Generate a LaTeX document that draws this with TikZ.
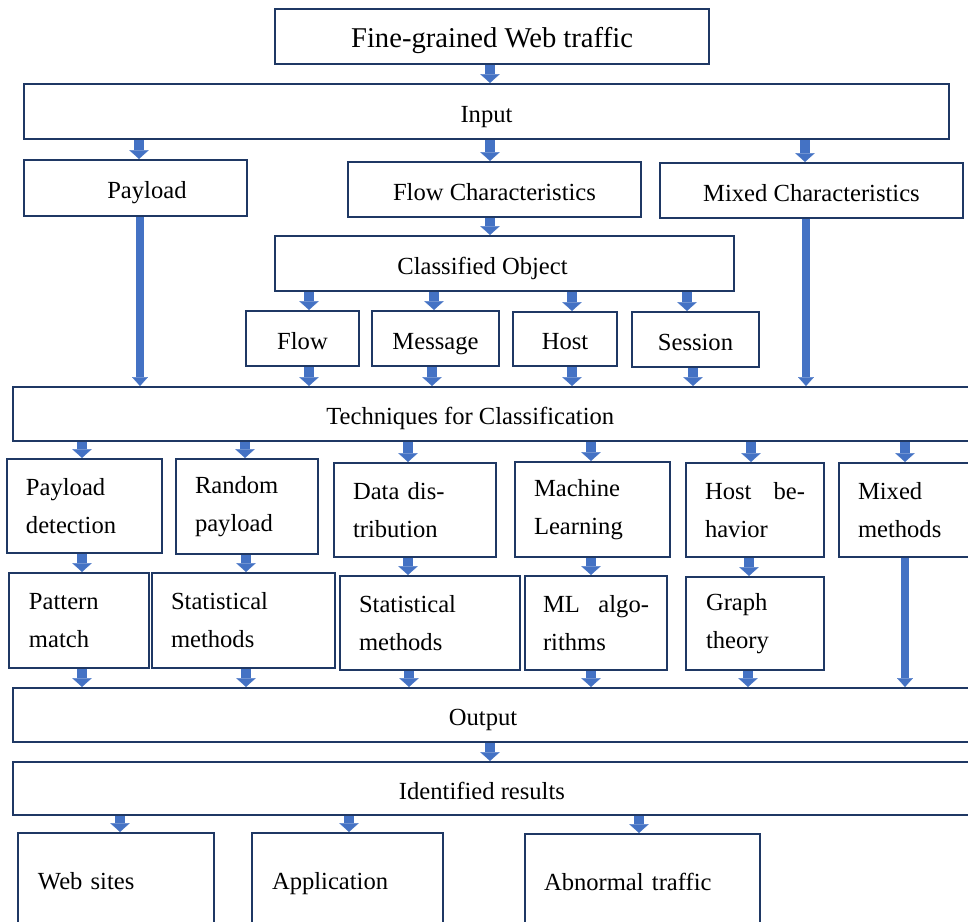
\documentclass[tikz,border=0pt]{standalone}
\usepackage{fontspec}
\setmainfont{Liberation Serif}
\usetikzlibrary{arrows.meta}
\definecolor{bordc}{HTML}{1F3864}
\definecolor{arrc}{HTML}{4472C4}
\tikzset{
  box/.style={draw=bordc, line width=1.2pt, fill=white, inner sep=0pt, text=black,
    font=\fontsize{14}{21.6}\selectfont},
  sl/.style={text height=14pt, text depth=1.6pt},
  slb/.style={text height=11pt, text depth=1.7pt},
  arr/.style={draw=arrc, line width=5.6pt,
    -{Triangle[length=5pt, width=11pt, line width=0.1pt]}},
  longarr/.style={draw=arrc, line width=4.7pt,
    -{Triangle[length=5pt, width=9pt, line width=0.1pt]}},
}
% [opts]{name}{x1}{y1}{x2}{y2}{text}
\newcommand\mkbox[7][]{%
  \pgfmathsetmacro\mkW{(#5-#3)*0.02}%
  \pgfmathsetmacro\mkH{(#6-#4)*0.02}%
  \pgfmathsetmacro\mkX{(#3+#5)/2}%
  \pgfmathsetmacro\mkY{(#4+#6)/2}%
  \node[box, sl, minimum width=\mkW cm, minimum height=\mkH cm, #1] (#2) at (\mkX,\mkY) {#7};}
% [opts]{name}{x1}{y1}{x2}{y2}{pad}{text}
\newcommand\mkboxt[8][align=left]{%
  \pgfmathsetmacro\mkW{(#5-#3)*0.02}%
  \pgfmathsetmacro\mkH{(#6-#4)*0.02}%
  \pgfmathsetmacro\mkT{(#5-#3-2*#7)*0.02}%
  \pgfmathsetmacro\mkX{(#3+#5)/2}%
  \pgfmathsetmacro\mkY{(#4+#6)/2}%
  \node[box, minimum width=\mkW cm, minimum height=\mkH cm, text width=\mkT cm, #1] (#2) at (\mkX,\mkY) {#8};}
\begin{document}
\begin{tikzpicture}[x=0.02cm, y=-0.02cm]
\useasboundingbox (0,0) rectangle (968,921);
% boxes
\mkbox[font=\fontsize{16.3}{20}\selectfont, text height=15pt, text depth=2.5pt]{title}{275}{9}{709}{64}{Fine-grained Web traffic}
\mkbox{input}{24}{84}{949}{139}{Input}
\mkbox{payload}{24}{160}{247}{216}{\hspace*{13pt}Payload}
\mkbox{flowch}{348}{162}{641}{217}{Flow Characteristics}
\mkbox{mixch}{660}{163}{963}{218}{Mixed Characteristics}
\mkbox{clobj}{275}{236}{734}{291}{Classified Object\hspace*{25pt}}
\mkbox{flow}{246}{311}{359}{366}{Flow}
\mkbox{msg}{372}{311}{499}{366}{Message}
\mkbox{host}{513}{312}{617}{366}{Host}
\mkbox{sess}{632}{312}{759}{367}{Session}
\mkbox{tech}{13}{387}{975}{441}{Techniques for Classification\hspace*{27pt}}
\mkboxt{pdet}{7}{459}{162}{553}{19}{Payload\\detection}
\mkboxt{rpay}{176}{459}{318}{554}{19}{Random\\payload}
\mkboxt{ddis}{334}{463}{496}{557}{19}{Data dis-\\tribution}
\mkboxt{mlrn}{515}{462}{670}{557}{19}{Machine\\Learning}
\mkboxt[align=justify]{hbeh}{686}{463}{824}{557}{19}{Host be-\linebreak havior}
\mkboxt{mixm}{839}{463}{975}{557}{19}{Mixed\\methods}
\mkboxt{patt}{9}{573}{149}{668}{20}{Pattern\\match}
\mkboxt{stat1}{152}{573}{335}{668}{19}{Statistical\\methods}
\mkboxt{stat2}{340}{576}{520}{670}{19}{Statistical\\methods}
\mkboxt[align=justify]{mlalg}{525}{576}{667}{670}{18}{ML algo-\linebreak rithms}
\mkboxt{graph}{686}{577}{824}{670}{20}{Graph\\theory}
\mkbox{output}{13}{688}{975}{742}{Output\hspace*{12.5pt}}
\mkbox{idres}{13}{762}{975}{815}{Identified results\hspace*{13.7pt}}
\mkboxt[align=left, slb]{web}{18}{833}{214}{929}{20}{Web sites}
\mkboxt[align=left, slb]{app}{252}{833}{443}{929}{20}{Application}
\mkboxt[align=left, slb]{abn}{525}{834}{760}{930}{19}{Abnormal traffic}
% arrows
\draw[arr] (title.south -| 490,0) -- (input.north -| 490,0);
\draw[arr] (input.south -| 139,0) -- (payload.north -| 139,0);
\draw[arr] (input.south -| 490,0) -- (flowch.north -| 490,0);
\draw[arr] (input.south -| 805,0) -- (mixch.north -| 805,0);
\draw[arr] (flowch.south -| 490,0) -- (clobj.north -| 490,0);
\draw[arr] (clobj.south -| 309,0) -- (flow.north -| 309,0);
\draw[arr] (clobj.south -| 434,0) -- (msg.north -| 434,0);
\draw[arr] (clobj.south -| 572,0) -- (host.north -| 572,0);
\draw[arr] (clobj.south -| 687,0) -- (sess.north -| 687,0);
\draw[arr] (flow.south -| 309,0) -- (tech.north -| 309,0);
\draw[arr] (msg.south -| 432,0) -- (tech.north -| 432,0);
\draw[arr] (host.south -| 572,0) -- (tech.north -| 572,0);
\draw[arr] (sess.south -| 693,0) -- (tech.north -| 693,0);
\draw[longarr] (payload.south -| 140,0) -- (tech.north -| 140,0);
\draw[longarr] (mixch.south -| 806,0) -- (tech.north -| 806,0);
\draw[arr] (tech.south -| 82,0) -- (pdet.north -| 82,0);
\draw[arr] (tech.south -| 245,0) -- (rpay.north -| 245,0);
\draw[arr] (tech.south -| 408,0) -- (ddis.north -| 408,0);
\draw[arr] (tech.south -| 591,0) -- (mlrn.north -| 591,0);
\draw[arr] (tech.south -| 751,0) -- (hbeh.north -| 751,0);
\draw[arr] (tech.south -| 905,0) -- (mixm.north -| 905,0);
\draw[arr] (pdet.south -| 82,0) -- (patt.north -| 82,0);
\draw[arr] (rpay.south -| 246,0) -- (stat1.north -| 246,0);
\draw[arr] (ddis.south -| 408,0) -- (stat2.north -| 408,0);
\draw[arr] (mlrn.south -| 591,0) -- (mlalg.north -| 591,0);
\draw[arr] (hbeh.south -| 749,0) -- (graph.north -| 749,0);
\draw[arr] (patt.south -| 82,0) -- (output.north -| 82,0);
\draw[arr] (stat1.south -| 246,0) -- (output.north -| 246,0);
\draw[arr] (stat2.south -| 409,0) -- (output.north -| 409,0);
\draw[arr] (mlalg.south -| 591,0) -- (output.north -| 591,0);
\draw[arr] (graph.south -| 748,0) -- (output.north -| 748,0);
\draw[longarr] (mixm.south -| 905,0) -- (output.north -| 905,0);
\draw[arr] (output.south -| 490,0) -- (idres.north -| 490,0);
\draw[arr] (idres.south -| 120,0) -- (web.north -| 120,0);
\draw[arr] (idres.south -| 349,0) -- (app.north -| 349,0);
\draw[arr] (idres.south -| 639,0) -- (abn.north -| 639,0);
\end{tikzpicture}
\end{document}
